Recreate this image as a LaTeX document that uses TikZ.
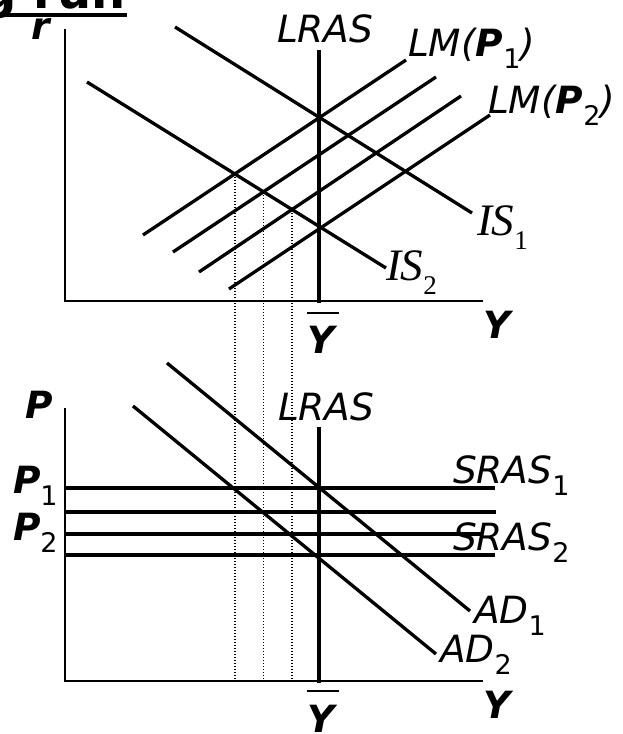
\documentclass[tikz,border=0pt]{standalone}
\usepackage{fontspec}
\setmainfont{DejaVu Sans}[BoldFont={DejaVu Sans Bold},ItalicFont={DejaVu Sans Oblique},BoldItalicFont={DejaVu Sans Bold Oblique}]
\newfontfamily\isfont{Liberation Serif}
\usetikzlibrary{intersections}
\newcommand\lsub[1]{\raisebox{-0.32em}{\fontsize{27}{27}\selectfont\upshape\mdseries #1}}
\begin{document}
\begin{tikzpicture}[x=1pt,y=-1pt,
  every node/.style={inner sep=0pt,outer sep=0pt},
  lab/.style={font=\fontsize{37.5}{40}\selectfont\itshape,anchor=base west},
  blab/.style={font=\fontsize{37.5}{40}\selectfont\bfseries\itshape,anchor=base west},
  islab/.style={font=\fontsize{45}{47}\selectfont\isfont\itshape,anchor=base west},
  axisline/.style={line width=2pt},
  curve/.style={line width=3.3pt},
  lrasline/.style={line width=3.6pt},
  srasline/.style={line width=4pt},
  guide/.style={line width=1.5pt,dash pattern=on 1.5pt off 1.5pt}]
\useasboundingbox (0,0) rectangle (623,734);

% title (cut off by the page edge)
\node[font=\fontsize{48}{50}\selectfont\bfseries,anchor=base east] (title) at (126,8) {Long run};
\draw[line width=4pt] ([yshift=-7pt]title.base west) -- ([yshift=-7pt,xshift=1pt]title.base east);

% ---------- top panel ----------
\coordinate (tO) at (65,301);
\coordinate (bO) at (65,681);
\draw[axisline] (65,29) -- (tO) -- (483,301);
\draw[lrasline] (319,50) -- (319,303);
\draw[curve, name path=is1] (175,27) -- (472,213);
\draw[curve, name path=is2] (87,82) -- (386,268);
\draw[curve, name path=lm1] (143,235) -- (406,60);
\draw[curve, name path=lm2] (173,252) -- (436,77);
\draw[curve, name path=lm3] (199,272) -- (461,96);
\draw[curve, name path=lm4] (229,289) -- (490,115);

\path[name intersections={of=is2 and lm1,by=q1}];
\path[name intersections={of=is2 and lm2,by=q2}];
\path[name intersections={of=is2 and lm3,by=q3}];
\draw[guide] (q1) -- (q1 |- bO);
\draw[guide] (q2) -- (q2 |- bO);
\draw[guide] (q3) -- (q3 |- bO);

\node[blab] (rlab) at (31,39) {r};
\node[lab] (lrasT) at (277,42) {LRAS};
\node[lab] (lmA) at (408,56) {LM(\textbf{\textit{P}}\lsub{1})};
\node[lab] (lmB) at (488,113) {LM(\textbf{\textit{P}}\lsub{2})};
\node[islab] (isA) at (477,235) {IS\lsub{1}};
\node[islab] (isB) at (386,280) {IS\lsub{2}};
\node[blab] (yT) at (483,338) {Y};
\node[blab] (ybT) at (307,353) {Y};
\draw[line width=2.6pt] (307,313) -- (339,313);

% ---------- bottom panel ----------
\draw[axisline] (65,408) -- (bO) -- (483,681);
\draw[lrasline] (319,427) -- (319,683);
\draw[srasline] (66,488) -- (495,488);
\draw[srasline] (66,512) -- (496,512);
\draw[srasline] (66,534) -- (482,534);
\draw[srasline] (66,555) -- (495,555);
\draw[curve] (167,363) -- (470,611);
\draw[curve] (133,406) -- (436,654);

\node[blab] (plab) at (25,418) {P};
\node[blab] (p1) at (13,493) {P\lsub{1}};
\node[blab] (p2) at (13,540) {P\lsub{2}};
\node[lab] (lrasB) at (278,420) {LRAS};
\node[lab] (srasA) at (453,483) {SRAS\lsub{1}};
\node[lab] (srasB) at (453,550) {SRAS\lsub{2}};
\node[lab] (adA) at (474,623) {AD\lsub{1}};
\node[lab] (adB) at (440,662) {AD\lsub{2}};
\node[blab] (yB) at (483,718) {Y};
\node[blab] (ybB) at (307,732) {Y};
\draw[line width=2.6pt] (307,691) -- (339,691);
\end{tikzpicture}
\end{document}
